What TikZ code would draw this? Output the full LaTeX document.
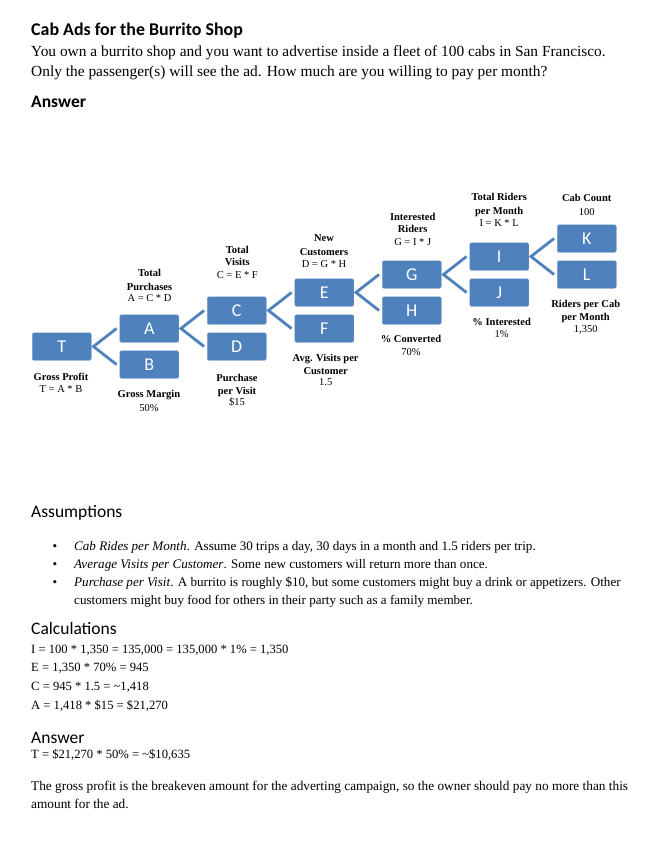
\documentclass[tikz,border=0pt]{standalone}
\usepackage{fontspec}
\setmainfont{Liberation Serif}
\newfontfamily\hdfont{Carlito}
\definecolor{boxblue}{HTML}{4F81BD}
\begin{document}
\begin{tikzpicture}[x=1pt,y=-1pt,
  box/.style={fill=boxblue, draw=boxblue!85!white, rounded corners=1.5pt, minimum width=59pt, minimum height=27.5pt, inner sep=0pt, text=white, font=\hdfont\fontsize{18}{18}\selectfont},
  conn/.style={draw=boxblue, line width=2.8pt},
  top/.style={anchor=base west, inner sep=0pt, font=\fontsize{15.4}{18}\selectfont},
  body/.style={anchor=base west, inner sep=0pt, font=\fontsize{13.1}{16}\selectfont},
  calc/.style={anchor=base west, inner sep=0pt, font=\fontsize{12.6}{16}\selectfont},
  para/.style={anchor=base west, inner sep=0pt, font=\fontsize{13.3}{16}\selectfont},
  bul/.style={anchor=base, inner sep=0pt, font=\fontsize{13.1}{16}\selectfont},
  hbold/.style={anchor=base west, inner sep=0pt, font=\hdfont\bfseries\fontsize{17.5}{20}\selectfont},
  hreg/.style={anchor=base west, inner sep=0pt, font=\hdfont\fontsize{17.5}{20}\selectfont},
  lb/.style={anchor=base, inner sep=0pt, font=\bfseries\fontsize{10.5}{12}\selectfont},
  lr/.style={anchor=base, inner sep=0pt, font=\fontsize{10.5}{12}\selectfont}
]
\useasboundingbox (0,0) rectangle (663,844);

% header
\node[hbold, font=\hdfont\bfseries\fontsize{17.9}{20}\selectfont] (title) at (31,35.5) {Cab Ads for the Burrito Shop};
\node[top] (p1) at (31,56.7) {You own a burrito shop and you want to advertise inside a fleet of 100 cabs in San Francisco.};
\node[top] (p2) at (31,76.7) {Only the passenger(s) will see the ad. How much are you willing to pay per month?};
\node[hbold] (ans1) at (31,107.7) {Answer};

% boxes
\node[box] (T) at (61.75,346.5) {T};
\node[box] (A) at (149.25,328.5) {A};
\node[box] (B) at (149.25,364.5) {B};
\node[box] (C) at (236.75,310.5) {C};
\node[box] (D) at (236.75,346.5) {D};
\node[box] (E) at (324.25,292.5) {E};
\node[box] (F) at (324.25,328.5) {F};
\node[box] (G) at (411.75,274.5) {G};
\node[box] (H) at (411.75,310.5) {H};
\node[box] (I) at (499.25,256.5) {I};
\node[box] (J) at (499.25,292.5) {J};
\node[box] (K) at (586.75,238.5) {K};
\node[box] (L) at (586.75,274.5) {L};

% connectors
\draw[conn] ([xshift=-3pt]A.west) -- ([xshift=2pt]T.east) -- ([xshift=-3pt]B.west);
\draw[conn] ([xshift=-3pt]C.west) -- ([xshift=2pt]A.east) -- ([xshift=-3pt]D.west);
\draw[conn] ([xshift=-3pt]E.west) -- ([xshift=2pt]C.east) -- ([xshift=-3pt]F.west);
\draw[conn] ([xshift=-3pt]G.west) -- ([xshift=2pt]E.east) -- ([xshift=-3pt]H.west);
\draw[conn] ([xshift=-3pt]I.west) -- ([xshift=2pt]G.east) -- ([xshift=-3pt]J.west);
\draw[conn] ([xshift=-3pt]K.west) -- ([xshift=2pt]I.east) -- ([xshift=-3pt]L.west);

% labels
\node[lb] (lT1) at (61,380.2) {Gross Profit};
\node[lr] (lT2) at (61,392.8) {T = A * B};
\node[lb] (lA1) at (149.5,276.8) {Total};
\node[lb] (lA2) at (149.5,290.2) {Purchases};
\node[lr] (lA3) at (149.5,301.8) {A = C * D};
\node[lb] (lB1) at (149,397.8) {Gross Margin};
\node[lr] (lB2) at (149,411.2) {50\%};
\node[lb] (lC1) at (237.3,253.5) {Total};
\node[lb] (lC2) at (237.3,265.8) {Visits};
\node[lr] (lC3) at (237.3,278.5) {C = E * F};
\node[lb] (lD1) at (237,381.2) {Purchase};
\node[lb] (lD2) at (237,394.2) {per Visit};
\node[lr] (lD3) at (237,405.8) {\$15};
\node[lb] (lE1) at (324,241.8) {New};
\node[lb] (lE2) at (324,255.2) {Customers};
\node[lr] (lE3) at (324,267.8) {D = G * H};
\node[lb] (lF1) at (325.7,361.8) {Avg. Visits per};
\node[lb] (lF2) at (325.7,374.5) {Customer};
\node[lr] (lF3) at (325.7,385.8) {1.5};
\node[lb] (lG1) at (412.7,220.2) {Interested};
\node[lb] (lG2) at (412.7,232.8) {Riders};
\node[lr] (lG3) at (412.7,245.8) {G = I * J};
\node[lb] (lH1) at (411,342.8) {\% Converted};
\node[lr] (lH2) at (411,355.2) {70\%};
\node[lb] (lI1) at (499.2,200.8) {Total Riders};
\node[lb] (lI2) at (499.2,214.2) {per Month};
\node[lr] (lI3) at (499.2,226.8) {I = K * L};
\node[lb] (lJ1) at (501.7,325.2) {\% Interested};
\node[lr] (lJ2) at (501.7,337.8) {1\%};
\node[lb] (lK1) at (586.7,201.8) {Cab Count};
\node[lr] (lK2) at (586.7,215.2) {100};
\node[lb] (lL1) at (585.7,307.5) {Riders per Cab};
\node[lb] (lL2) at (585.7,320.2) {per Month};
\node[lr] (lL3) at (585.7,332.8) {1,350};

% assumptions
\node[hreg] (hass) at (31,517.7) {Assumptions};
\node[bul] (b1) at (55,550) {\textbullet};
\node[bul] (b2) at (55,568.3) {\textbullet};
\node[bul] (b3) at (55,586.2) {\textbullet};
\node[body] (a1) at (74,550) {\textit{Cab Rides per Month}. Assume 30 trips a day, 30 days in a month and 1.5 riders per trip.};
\node[body] (a2) at (74,568.3) {\textit{Average Visits per Customer}. Some new customers will return more than once.};
\node[body] (a3) at (74,586.2) {\textit{Purchase per Visit}. A burrito is roughly \$10, but some customers might buy a drink or appetizers. Other};
\node[body] (a4) at (74,604.3) {customers might buy food for others in their party such as a family member.};

% calculations
\node[hreg] (hcalc) at (31,634) {Calculations};
\node[calc] (c1) at (31,653.3) {I = 100 * 1,350 = 135,000 = 135,000 * 1\% = 1,350};
\node[calc] (c2) at (31,671.7) {E = 1,350 * 70\% = 945};
\node[calc] (c3) at (31,690.7) {C = 945 * 1.5 = \textasciitilde1,418};
\node[calc] (c4) at (31,709) {A = 1,418 * \$15 = \$21,270};

% answer
\node[hreg] (hans) at (31,743.3) {Answer};
\node[calc] (t1) at (31,758.3) {T = \$21,270 * 50\% = \textasciitilde\$10,635};
\node[para] (f1) at (31,790) {The gross profit is the breakeven amount for the adverting campaign, so the owner should pay no more than this};
\node[para] (f2) at (31,808.3) {amount for the ad.};
\end{tikzpicture}
\end{document}
